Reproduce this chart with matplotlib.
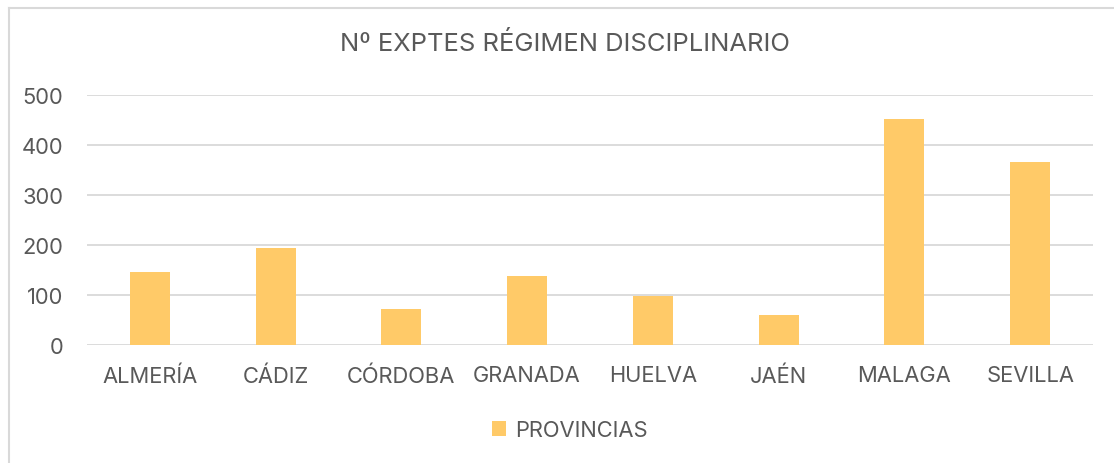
import matplotlib
matplotlib.use("Agg")
import matplotlib.pyplot as plt
from matplotlib.lines import Line2D
from matplotlib.patches import Patch

categories = ["ALMERÍA", "CÁDIZ", "CÓRDOBA", "GRANADA", "HUELVA", "JAÉN", "MALAGA", "SEVILLA"]
values = [146, 195, 72, 138, 99, 61, 452, 366]
yticks = [0, 100, 200, 300, 400, 500]
title = "Nº EXPTES RÉGIMEN DISCIPLINARIO"
series_name = "PROVINCIAS"

W, H = 1114, 464
fig = plt.figure(figsize=(W / 100, H / 100), dpi=100)
plt.rcParams['font.family'] = ['Inter', 'DejaVu Sans']
txt = "#595959"
grid = "#d9d9d9"
bar_color = "#FFCA68"

ax = fig.add_axes([87 / W, 1 - 346 / H, (1093 - 87) / W, (346 - 96) / H])
x = list(range(len(categories)))
ax.bar(x, values, width=0.32, color=bar_color, zorder=3)
ax.set_xlim(-0.5, len(categories) - 0.5)
ax.set_ylim(0, 500)
ax.set_yticks(yticks)
ax.set_xticks(x)
ax.set_xticklabels(categories)
for s in ax.spines.values():
    s.set_visible(False)
ax.yaxis.grid(True, color=grid, linewidth=1.3, zorder=0)
ax.tick_params(axis='both', length=0, labelsize=15.8, labelcolor=txt)
ax.tick_params(axis='y', pad=17)
ax.tick_params(axis='x', pad=14.5)

fig.text(565 / W, 1 - 44 / H, title, ha='center', va='center', fontsize=18.4, color=txt)

handles = [Patch(facecolor=bar_color, edgecolor='none', label=series_name)]
fig.legend(handles=handles, loc='center', bbox_to_anchor=(570 / W, 1 - 431 / H), frameon=False,
           fontsize=15.8, labelcolor=txt, handlelength=0.65, handleheight=0.65, handletextpad=0.4)

# outer chart border (cropped on the right and bottom)
fig.add_artist(Line2D([8.5 / W, 8.5 / W], [0, 1 - 9 / H], transform=fig.transFigure, color=grid, linewidth=1.5))
fig.add_artist(Line2D([8.5 / W, 1], [1 - 9 / H, 1 - 9 / H], transform=fig.transFigure, color=grid, linewidth=1.5))

fig.savefig("out.png", dpi=100, facecolor="white")
